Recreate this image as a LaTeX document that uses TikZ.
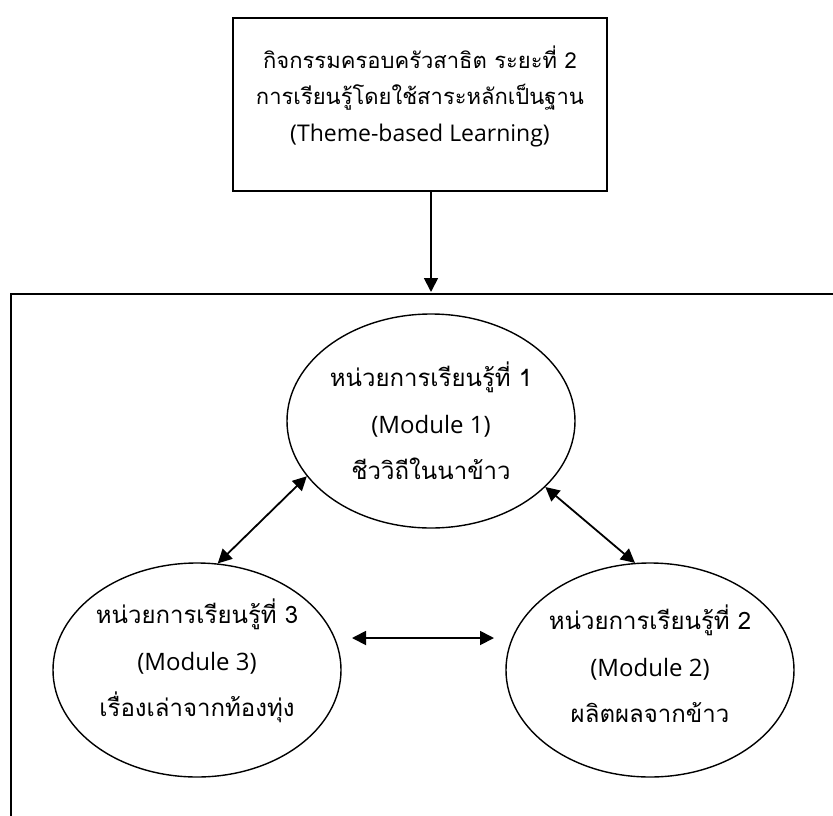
\documentclass[tikz,border=0pt]{standalone}
\usepackage{fontspec}
\setmainfont{Open Sans}
\newfontfamily\thaifont[Script=Thai]{Loma}
\usetikzlibrary{arrows.meta,shapes.geometric}

% Thai runs set in Loma at a given size
\newcommand\thline[2]{{\thaifont\fontsize{#1}{#1}\selectfont #2}}

\begin{document}
\begin{tikzpicture}[x=1pt,y=-1pt,
  tip/.tip={Triangle[length=14pt,width=14pt]},
  topbox/.style={draw, line width=1.5pt, minimum width=374pt, minimum height=173pt, inner sep=0pt},
  toptext/.style={align=center, inner sep=0pt, font=\fontsize{23}{36.5}\selectfont},
  module/.style={draw, ellipse, line width=1.4pt, minimum width=288pt, minimum height=214pt, inner sep=0pt},
  modtext/.style={align=center, inner sep=0pt, font=\fontsize{24}{46.5}\selectfont},
  frame/.style={draw, line width=2.3pt, inner sep=0pt, anchor=north west,
    minimum width=850pt, minimum height=560pt},
  link/.style={line width=1.8pt, tip-tip},
  flow/.style={line width=1.8pt, -tip, shorten >=1pt},
]
\useasboundingbox (0,0) rectangle (833,815);

% heading box
\node[topbox] (top) at (420,104.5) {};
\node[toptext] (toptitle) at (420,96)
  {\thline{22}{กิจกรรมครอบครัวสาธิต ระยะที่ 2}\\
   \thline{22}{การเรียนรู้โดยใช้สาระหลักเป็นฐาน}\\
   (Theme-based Learning)};

% outer frame holding the three modules
\node[frame] (box) at (10,293) {};

% the three learning modules
\node[module] (m1) at (431,421) {};
\node[module] (m3) at (197,670) {};
\node[module] (m2) at (650,670) {};

\node[modtext] (m1text) at (431,421)
  {\thline{24}{หน่วยการเรียนรู้ที่ 1}\\(Module 1)\\\thline{24}{ชีววิถีในนาข้าว}};
\node[modtext] (m3text) at (197,661)
  {\thline{24}{หน่วยการเรียนรู้ที่ 3}\\(Module 3)\\\thline{24}{เรื่องเล่าจากท้องทุ่ง}};
\node[modtext] (m2text) at (650,664)
  {\thline{24}{หน่วยการเรียนรู้ที่ 2}\\(Module 2)\\\thline{24}{ผลิตผลจากข้าว}};

% connectors
\draw[flow] (top.south -| m1.center) -- (box.north -| m1.center);
\draw[link] (m1.204) -- (m3.79.5);
\draw[link] (m1.330) -- (m2.98);
\coordinate (h3) at (352,638);
\coordinate (h2) at (494,638);
\draw[link] (h3) -- (h2);
\end{tikzpicture}
\end{document}
